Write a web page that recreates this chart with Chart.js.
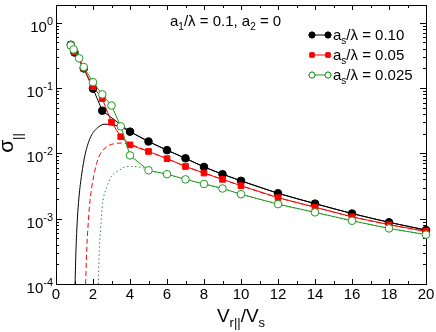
<!DOCTYPE html>
<html>
<head>
<meta charset="utf-8">
<script src="https://cdn.jsdelivr.net/npm/chart.js@4.4.0/dist/chart.umd.min.js"></script>
<style>
  html, body { margin: 0; padding: 0; background: #fff; }
</style>
</head>
<body>
<canvas id="sigma" width="436" height="332"></canvas>
<script>
const FONT = '"Liberation Sans", Arial, Helvetica, sans-serif';
const GREEN = "#1f9a1f";

// a_s/lambda = 0.10
const xBlack = [0.8, 1.0, 1.5, 2.0, 2.5, 4, 5, 6, 7, 8, 9, 10, 12, 14, 16, 18, 20];
const yBlack = [0.46, 0.35, 0.2, 0.098, 0.045, 0.0215, 0.0152, 0.0112, 0.0084, 0.0062, 0.0048, 0.0038, 0.00245, 0.0017, 0.0012, 0.00088, 0.00067];
// a_s/lambda = 0.05
const xRed = [0.8, 1.0, 1.5, 2.0, 2.5, 3, 3.5, 4, 5, 6, 7, 8, 9, 10, 12, 14, 16, 18, 20];
const yRed = [0.45, 0.36, 0.2, 0.105, 0.069, 0.030, 0.018, 0.0135, 0.0107, 0.0083, 0.0063, 0.0050, 0.0040, 0.0032, 0.0021, 0.0015, 0.00107, 0.00081, 0.00064];
// a_s/lambda = 0.025
const xGreen = [0.8, 0.95, 1.25, 1.5, 2, 2.5, 3, 3.5, 4, 5, 6, 7, 8, 9, 10, 12, 14, 16, 18, 20];
const yGreen = [0.45, 0.39, 0.285, 0.21, 0.123, 0.080, 0.054, 0.026, 0.0093, 0.0055, 0.0048, 0.0040, 0.0034, 0.0029, 0.00237, 0.00167, 0.00125, 0.00093, 0.00071, 0.00057];

// curves without markers
const xCurveBlack = [1.03, 1.08, 1.15, 1.24, 1.39, 1.57, 1.84, 2.2, 2.65, 3.1, 3.55, 4, 5, 6, 7, 8, 9, 10, 12, 14, 16, 18, 20];
const yCurveBlack = [1e-4, 3.3e-4, 9.3e-4, 2.1e-3, 4.8e-3, 9.5e-3, 0.017, 0.024, 0.028, 0.027, 0.025, 0.0215, 0.0152, 0.0112, 0.0084, 0.0062, 0.0048, 0.0038, 0.00245, 0.0017, 0.0012, 0.00088, 0.00067];
const xCurveRed = [1.6, 1.66, 1.75, 1.84, 2.02, 2.29, 2.65, 3.1, 3.55, 4, 5, 6, 7, 8, 9, 10, 12, 14, 16, 18, 20];
const yCurveRed = [1e-4, 3.3e-4, 9.3e-4, 1.9e-3, 4.2e-3, 8.5e-3, 0.012, 0.014, 0.0144, 0.0138, 0.0107, 0.0083, 0.0063, 0.0050, 0.0040, 0.0032, 0.0021, 0.0015, 0.00107, 0.00081, 0.00064];
const xCurveGreen = [2.29, 2.34, 2.41, 2.52, 2.74, 3.01, 3.46, 3.73, 4.09, 4.72, 5, 6, 7, 8, 9, 10, 12, 14, 16, 18, 20];
const yCurveGreen = [1e-4, 3.3e-4, 7e-4, 1.7e-3, 3.0e-3, 4.5e-3, 5.6e-3, 6.2e-3, 6.3e-3, 6.0e-3, 0.0055, 0.0048, 0.0040, 0.0034, 0.0029, 0.00237, 0.00167, 0.00125, 0.00093, 0.00071, 0.00057];

const xTicks = [0, 2, 4, 6, 8, 10, 12, 14, 16, 18, 20];
const yTicks = [1e-4, 1e-3, 1e-2, 1e-1, 1];
const yTickExp = ["-4", "-3", "-2", "-1", "0"];

const pts = (xs, ys) => xs.map((x, i) => ({ x: x, y: ys[i] }));

// draws a line of text with sub/superscript pieces: [text, size, dy]
function rich(ctx, parts, x, y, align) {
  let w = 0;
  parts.forEach(p => { ctx.font = p[1] + "px " + FONT; w += ctx.measureText(p[0]).width; });
  let cx = align === "right" ? x - w : align === "center" ? x - w / 2 : x;
  parts.forEach(p => {
    ctx.font = p[1] + "px " + FONT;
    ctx.fillText(p[0], cx, y + (p[2] || 0));
    cx += ctx.measureText(p[0]).width;
  });
}

const framePlugin = {
  id: "frame",
  beforeDatasetsDraw(chart) {
    const { ctx, chartArea: a, scales: { x, y } } = chart;
    ctx.save();
    ctx.strokeStyle = "#000";
    ctx.lineWidth = 1;
    ctx.beginPath();
    // x ticks, major every 2, minor every 1
    for (let v = 0; v <= 20; v++) {
      const px = Math.round(x.getPixelForValue(v)) + 0.5;
      const len = v % 2 === 0 ? 5 : 3;
      ctx.moveTo(px, a.bottom); ctx.lineTo(px, a.bottom - len);
      ctx.moveTo(px, a.top); ctx.lineTo(px, a.top + len);
    }
    // y ticks, log decades with minors
    for (let e = -4; e <= 0; e++) {
      for (let m = 1; m <= 9; m++) {
        const v = m * Math.pow(10, e);
        if (v > y.max) break;
        const py = Math.round(y.getPixelForValue(v)) + 0.5;
        const len = m === 1 ? 6 : 3;
        ctx.moveTo(a.left, py); ctx.lineTo(a.left + len, py);
        ctx.moveTo(a.right, py); ctx.lineTo(a.right - len, py);
      }
    }
    ctx.stroke();
    ctx.strokeRect(Math.round(a.left) + 0.5, Math.round(a.top) + 0.5, Math.round(a.right - a.left), Math.round(a.bottom - a.top));
    ctx.restore();
  },
  afterDraw(chart) {
    const { ctx, chartArea: a, scales: { x, y } } = chart;
    ctx.save();
    ctx.fillStyle = "#000";
    ctx.textBaseline = "alphabetic";
    ctx.font = "15px " + FONT;
    ctx.textAlign = "center";
    xTicks.forEach(v => ctx.fillText(String(v), x.getPixelForValue(v), a.bottom + 15));
    ctx.textAlign = "left";
    yTicks.forEach((v, i) => {
      rich(ctx, [["10", 15, 0], [yTickExp[i], 11, -7]], a.left - 3, y.getPixelForValue(v) + 9, "right");
    });
    // axis titles
    rich(ctx, [["V", 19, 0], ["r||", 13, 5], ["/V", 19, 0], ["s", 13, 5]], (a.left + a.right) / 2, 322, "center");
    ctx.save();
    ctx.translate(13, 143);
    ctx.rotate(-Math.PI / 2);
    rich(ctx, [["σ", 21, 0], ["||", 13, 9]], 0, 0, "center");
    ctx.restore();
    // annotation
    rich(ctx, [["a", 15, 0], ["1", 10, 4], ["/λ = 0.1, a", 15, 0], ["2", 10, 4], [" = 0", 15, 0]], 170, 26, "left");
    // legend
    const rows = [
      ["0.10", "#000", "circle", "#000"],
      ["0.05", "#ff0000", "rect", "#ff0000"],
      ["0.025", GREEN, "circle", "#fff"]
    ];
    rows.forEach((r, i) => {
      const ly = 35 + i * 20;
      ctx.strokeStyle = r[1];
      ctx.lineWidth = 1;
      ctx.beginPath(); ctx.moveTo(312, ly); ctx.lineTo(328, ly); ctx.stroke();
      [312, 328].forEach(px => {
        ctx.fillStyle = r[3];
        Chart.helpers.drawPoint(ctx, { pointStyle: r[2], radius: 3, borderWidth: 1 }, px, ly);
        ctx.fill();
        ctx.stroke();
      });
      ctx.fillStyle = "#000";
      rich(ctx, [["a", 15, 0], ["s", 10, 4], ["/λ = " + r[0], 15, 0]], 333, ly + 5, "left");
    });
    ctx.restore();
  }
};

const curve = (xs, ys, color, dash, order) => ({
  data: pts(xs, ys),
  showLine: true,
  borderColor: color,
  borderWidth: 1,
  borderDash: dash,
  pointRadius: 0,
  cubicInterpolationMode: "monotone",
  order: order
});

const marks = (xs, ys, color, fill, style, order) => ({
  data: pts(xs, ys),
  showLine: true,
  borderColor: color,
  borderWidth: 1,
  backgroundColor: fill,
  pointBackgroundColor: fill,
  pointBorderColor: color,
  pointBorderWidth: 1,
  pointStyle: style,
  pointRadius: style === "rect" ? 4 : 3.8,
  tension: 0,
  clip: false,
  order: order
});

new Chart(document.getElementById("sigma"), {
  type: "scatter",
  data: {
    datasets: [
      marks(xGreen, yGreen, GREEN, "#fff", "circle", 0),
      marks(xRed, yRed, "#ff0000", "#ff0000", "rect", 1),
      marks(xBlack, yBlack, "#000", "#000", "circle", 2),
      curve(xCurveBlack, yCurveBlack, "#000", [], 3),
      curve(xCurveRed, yCurveRed, "#ff0000", [5, 3], 4),
      curve(xCurveGreen, yCurveGreen, GREEN, [1.5, 2.5], 5)
    ]
  },
  options: {
    responsive: false,
    animation: false,
    devicePixelRatio: 1,
    layout: { padding: { top: 2, right: 10, bottom: 0, left: 0 } },
    plugins: { legend: { display: false }, tooltip: { enabled: false } },
    scales: {
      x: {
        type: "linear", min: 0, max: 20,
        grid: { display: false }, border: { display: false },
        ticks: { display: false },
        afterFit: s => { s.height = 48; }
      },
      y: {
        type: "logarithmic", min: 1e-4, max: 1.87,
        grid: { display: false }, border: { display: false },
        ticks: { display: false },
        afterFit: s => { s.width = 56; }
      }
    }
  },
  plugins: [framePlugin]
});
</script>
</body>
</html>
